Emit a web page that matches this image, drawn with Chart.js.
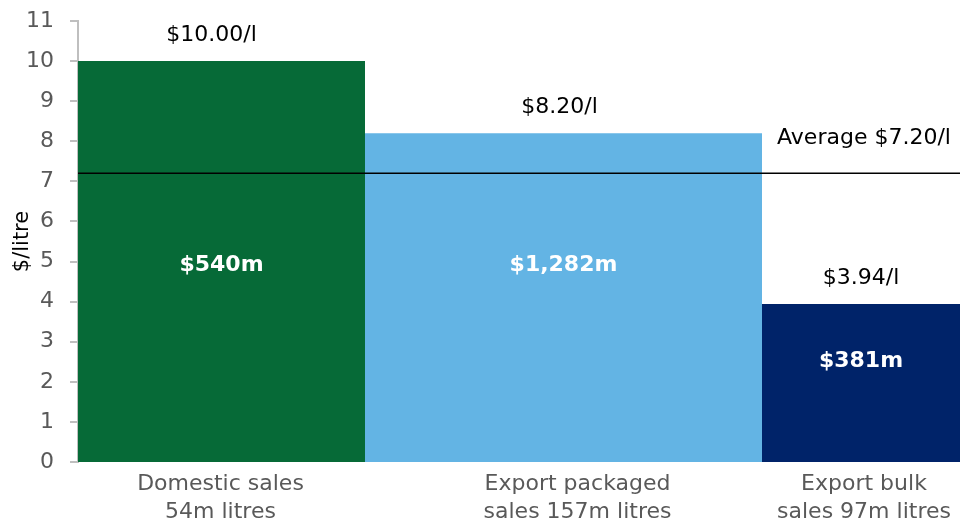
<!DOCTYPE html>
<html>
<head>
<meta charset="utf-8">
<script src="https://cdn.jsdelivr.net/npm/chart.js@4/dist/chart.umd.min.js"></script>
<style>
  html, body { margin: 0; padding: 0; background: #fff; }
  #wrap { position: relative; width: 960px; height: 520px; }
</style>
</head>
<body>
<div id="wrap"><canvas id="marimekko"></canvas></div>
<script>
// chart data
const categories = [["Domestic sales", "54m litres"], ["Export packaged", "sales 157m litres"], ["Export bulk", "sales 97m litres"]];
const pricePerLitre = [10.0, 8.2, 3.94];
const priceLabels = ["$10.00/l", "$8.20/l", "$3.94/l"];
const revenueLabels = ["$540m", "$1,282m", "$381m"];
const barSpan = [287, 397, 198]; // relative column widths as drawn
const averagePrice = 7.2;
const averageLabel = "Average $7.20/l";
const yTicks = [0, 1, 2, 3, 4, 5, 6, 7, 8, 9, 10, 11];
const colors = ["#066A37", "#63B4E4", "#002369"];

const FONT = "'DejaVu Sans', Verdana, sans-serif";

// column edges and centres on the x scale
const edges = [0];
barSpan.forEach((w, i) => edges.push(edges[i] + w));
const centres = barSpan.map((w, i) => edges[i] + w / 2);
const total = edges[edges.length - 1];
// small nudges to match where the original placed its text
const categoryShift = [-1, 14, 3];
const priceShift = [-10, -4, 0];
const revenueY = [4.9, 4.9, 2.5];

const datasets = pricePerLitre.map((v, i) => ({
  type: "line",
  label: categories[i].join(" "),
  order: 2,
  data: [{ x: edges[i], y: v }, { x: edges[i + 1], y: v }],
  fill: "origin",
  backgroundColor: colors[i],
  borderColor: colors[i],
  borderWidth: 0,
  pointRadius: 0,
  tension: 0,
}));

datasets.push({
  type: "line",
  label: "Average",
  order: 0,
  data: [{ x: 0, y: averagePrice }, { x: total, y: averagePrice }],
  borderColor: "#000",
  borderWidth: 1.5,
  pointRadius: 0,
  fill: false,
});

// labels drawn at data positions
const labelPlugin = {
  id: "labels",
  afterDatasetsDraw(chart) {
    const { ctx, scales: { x, y } } = chart;
    ctx.save();
    ctx.textAlign = "center";
    ctx.textBaseline = "middle";
    pricePerLitre.forEach((v, i) => {
      const cx = x.getPixelForValue(centres[i]);
      ctx.fillStyle = "#000";
      ctx.font = "22px " + FONT;
      ctx.fillText(priceLabels[i], cx + priceShift[i], y.getPixelForValue(v) - 26);
      ctx.fillStyle = "#fff";
      ctx.font = "bold 22px " + FONT;
      ctx.fillText(revenueLabels[i], cx, y.getPixelForValue(revenueY[i]));
    });
    ctx.fillStyle = "#000";
    ctx.font = "22px " + FONT;
    ctx.fillText(averageLabel, x.getPixelForValue(centres[2]) + 3, y.getPixelForValue(averagePrice) - 35);
    ctx.restore();
  },
};

new Chart(document.getElementById("marimekko").getContext("2d"), {
  data: { datasets },
  plugins: [labelPlugin],
  options: {
    responsive: true,
    maintainAspectRatio: false,
    animation: false,
    layout: { padding: 0 },
    plugins: { legend: { display: false }, tooltip: { enabled: false } },
    scales: {
      x: {
        type: "linear",
        min: 0,
        max: total,
        afterBuildTicks(axis) {
          axis.ticks = centres.map((c, i) => ({ value: c + categoryShift[i] }));
        },
        afterFit(axis) { axis.height = 58; },
        ticks: {
          autoSkip: false,
          maxRotation: 0,
          color: "#595959",
          font: { family: FONT, size: 22, lineHeight: 1.27 },
          padding: 0,
          callback: (val, idx) => categories[idx],
        },
        grid: { display: false },
        border: { display: false },
      },
      y: {
        min: 0,
        max: 11,
        afterBuildTicks(axis) {
          axis.ticks = yTicks.map((v) => ({ value: v }));
        },
        afterFit(axis) {
          axis.width = 78;
          axis.paddingTop = 21;
          axis.paddingBottom = 0;
        },
        ticks: {
          color: "#595959",
          font: { family: FONT, size: 22 },
          padding: 16,
        },
        grid: { drawOnChartArea: false, tickLength: 8, color: "#BFBFBF", lineWidth: 2 },
        border: { color: "#BFBFBF", width: 2 },
        title: {
          display: true,
          text: "$/litre",
          color: "#000",
          font: { family: FONT, size: 21 },
          padding: { top: 10, bottom: 0 },
        },
      },
    },
  },
});
</script>
</body>
</html>
